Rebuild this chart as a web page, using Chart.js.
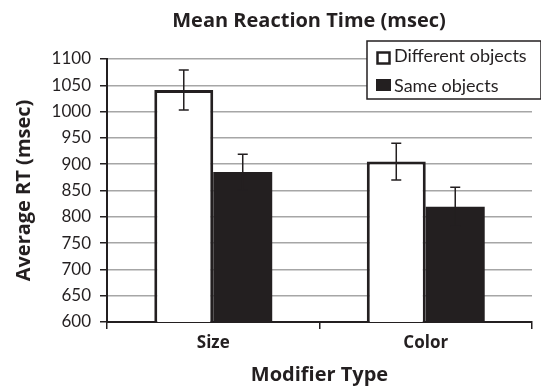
<!DOCTYPE html>
<html>
<head>
<meta charset="utf-8">
<script src="https://cdn.jsdelivr.net/npm/chart.js@4"></script>
<style>
  body { margin: 0; background: #fff; }
  #wrap { width: 541px; height: 388px; }
</style>
</head>
<body>
<div id="wrap"><canvas id="barChart" width="541" height="388"></canvas></div>
<script>
// data
var categories = ['Size', 'Color'];
var seriesNames = ['Different objects', 'Same objects'];
var differentRT = [1041, 905];
var sameRT = [885, 819];
var differentErr = [38, 35];
var sameErr = [34, 37];
var yTicks = [600, 650, 700, 750, 800, 850, 900, 950, 1000, 1050, 1100];
var chartTitle = 'Mean Reaction Time (msec)';

var ink = '#231f20';
var regular = 'Lato, "Open Sans", sans-serif';
var bold = '"Open Sans", Lato, sans-serif';

// error bars drawn through the y scale
var errorBars = {
    id: 'errorBars',
    afterDatasetsDraw: function (chart) {
        var ctx = chart.ctx;
        var y = chart.scales.y;
        ctx.save();
        ctx.strokeStyle = ink;
        ctx.lineWidth = 1.5;
        chart.data.datasets.forEach(function (ds, i) {
            var meta = chart.getDatasetMeta(i);
            meta.data.forEach(function (bar, j) {
                var v = ds.data[j], e = ds.errors[j];
                var top = y.getPixelForValue(v + e);
                var bot = y.getPixelForValue(v - e);
                ctx.beginPath();
                ctx.moveTo(bar.x, top); ctx.lineTo(bar.x, bot);
                ctx.moveTo(bar.x - 5, top); ctx.lineTo(bar.x + 5, top);
                ctx.moveTo(bar.x - 5, bot); ctx.lineTo(bar.x + 5, bot);
                ctx.stroke();
            });
        });
        ctx.restore();
    }
};

// title + boxed legend over the top right of the plot
var decorations = {
    id: 'decorations',
    afterDraw: function (chart) {
        var ctx = chart.ctx;
        ctx.save();
        ctx.fillStyle = ink;
        ctx.font = 'bold 20px ' + bold;
        ctx.textAlign = 'center';
        ctx.textBaseline = 'alphabetic';
        ctx.fillText(chartTitle, 309, 27);

        var x0 = 367, y0 = 41, w = 174, h = 58;
        ctx.fillStyle = '#fff';
        ctx.fillRect(x0, y0, w, h);
        ctx.strokeStyle = ink;
        ctx.lineWidth = 1.5;
        ctx.strokeRect(x0, y0, w, h);
        ctx.font = '18px ' + regular;
        ctx.textAlign = 'left';
        chart.data.datasets.forEach(function (ds, i) {
            var base = 62 + i * 30;
            if (i === 0) {
                ctx.lineWidth = 2.5;
                ctx.strokeRect(377.5, 52.5, 12, 11);
            } else {
                ctx.fillStyle = ink;
                ctx.fillRect(376, 79, 15, 12);
            }
            ctx.fillStyle = ink;
            ctx.fillText(ds.label, 394, base);
        });
        ctx.restore();
    }
};

var ctx = document.getElementById('barChart').getContext('2d');
var chart = new Chart(ctx, {
    type: 'bar',
    data: {
        labels: categories,
        datasets: [{
            label: seriesNames[0],
            data: differentRT,
            errors: differentErr,
            backgroundColor: '#ffffff',
            borderColor: ink,
            borderWidth: 3,
            borderSkipped: false
        }, {
            label: seriesNames[1],
            data: sameRT,
            errors: sameErr,
            backgroundColor: ink,
            borderColor: ink,
            borderWidth: 0
        }]
    },
    options: {
        responsive: false,
        animation: false,
        layout: { padding: { left: 0, right: 9, top: 59, bottom: 0 } },
        datasets: { bar: { categoryPercentage: 0.555, barPercentage: 1 } },
        plugins: {
            legend: { display: false },
            tooltip: { enabled: false },
            title: { display: false }
        },
        scales: {
            x: {
                offset: true,
                afterFit: function (axis) { axis.height = 66; },
                grid: { display: true, offset: true, drawOnChartArea: false, tickLength: 7, color: ink, lineWidth: 1.5 },
                border: { color: ink, width: 2 },
                ticks: { color: ink, font: { family: bold, size: 17, weight: 'bold' }, padding: 4 },
                title: {
                    display: true, text: 'Modifier Type', color: ink,
                    font: { family: bold, size: 20, weight: 'bold' }, padding: { top: 0, bottom: 1 }
                }
            },
            y: {
                min: 600, max: 1100,
                afterFit: function (axis) { axis.width = 107; },
                afterBuildTicks: function (axis) {
                    axis.ticks = yTicks.map(function (v) { return { value: v }; });
                },
                grid: { color: '#a6a6a6', lineWidth: 1.5, tickLength: 7, tickColor: ink },
                border: { color: ink, width: 2 },
                ticks: {
                    color: ink, font: { family: regular, size: 17 }, padding: 9,
                    callback: function (v) { return String(v); }
                },
                title: {
                    display: true, text: 'Average RT (msec)', color: ink,
                    font: { family: bold, size: 20, weight: 'bold' }, padding: { top: 12, bottom: 0 }
                }
            }
        }
    },
    plugins: [errorBars, decorations]
});
</script>
</body>
</html>
